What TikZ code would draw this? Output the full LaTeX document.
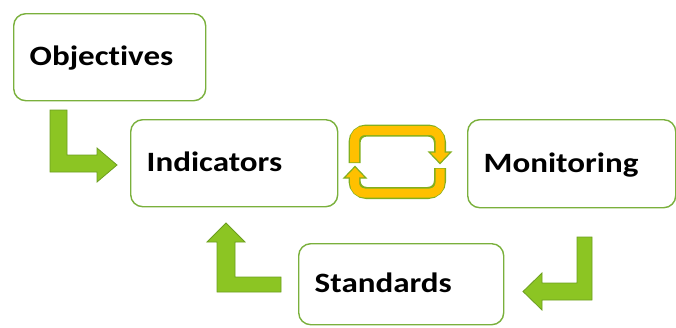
\documentclass[tikz,border=0pt]{standalone}
\usepackage{fontspec}
\setmainfont[Ligatures=NoCommon,FakeStretch=1.18]{Carlito}
\definecolor{boxline}{RGB}{122,176,60}
\definecolor{arrowfill}{RGB}{140,197,35}
\definecolor{arrowline}{RGB}{108,158,31}
\definecolor{cycfill}{RGB}{255,192,0}
\definecolor{cycline}{RGB}{130,175,30}
\begin{document}
\begin{tikzpicture}[x=1pt,y=-1pt,
  box/.style={draw=boxline, line width=1.4pt, rounded corners=12pt, fill=white,
    anchor=north west, inner xsep=16pt, inner ysep=0pt, align=left,
    text height=18pt, text depth=1pt,
    font=\fontsize{28}{32}\selectfont\bfseries},
  blockarrow/.style={fill=arrowfill, draw=arrowline, line width=0.8pt, line join=miter},
  cycout/.style={draw=cycline, line width=12pt, rounded corners=12pt},
  cycin/.style={draw=cycfill, line width=9pt, rounded corners=10pt},
  cychead/.style={fill=cycfill, draw=cycline, line width=1.2pt, line join=miter}]
\useasboundingbox (0,0) rectangle (676,327);
\node[box, minimum width=192pt, minimum height=87pt, text width=160pt] (obj) at (13,13) {Objectives};
\node[box, minimum width=207pt, minimum height=87pt, text width=175pt] (ind) at (130,119) {Indicators};
\node[box, minimum width=208pt, minimum height=88pt, text width=176pt] (mon) at (467,119) {Monitoring};
\node[box, minimum width=205pt, minimum height=81pt, text width=173pt] (std) at (298,243) {Standards};
% bent block arrows
\draw[blockarrow] (50,110) -- (67,110) -- (67,155) -- (97,155) -- (97,148) -- (117,165) -- (97,182) -- (97,172) -- (50,172) -- cycle;
\draw[blockarrow] (577,237) -- (592,237) -- (592,300) -- (542,300) -- (542,310) -- (523,291.5) -- (542,273) -- (542,283) -- (577,283) -- cycle;
\draw[blockarrow] (281,277) -- (281,292) -- (217,292) -- (217,242) -- (207,242) -- (226,223) -- (245,242) -- (235,242) -- (235,277) -- cycle;
% cycle icon
\draw[cycout] (354.5,163) -- (354.5,130.5) -- (440,130.5) -- (440,153);
\draw[cycout] (440,168) -- (440,193) -- (354.5,193) -- (354.5,177);
\draw[cychead] (429,152) -- (451,152) -- (440,163.5) -- cycle;
\draw[cychead] (344,178) -- (366,178) -- (355,166.5) -- cycle;
\draw[cycin] (354.5,162.4) -- (354.5,130.5) -- (440,130.5) -- (440,154);
\draw[cycin] (440,168.6) -- (440,193) -- (354.5,193) -- (354.5,176);
\end{tikzpicture}
\end{document}
